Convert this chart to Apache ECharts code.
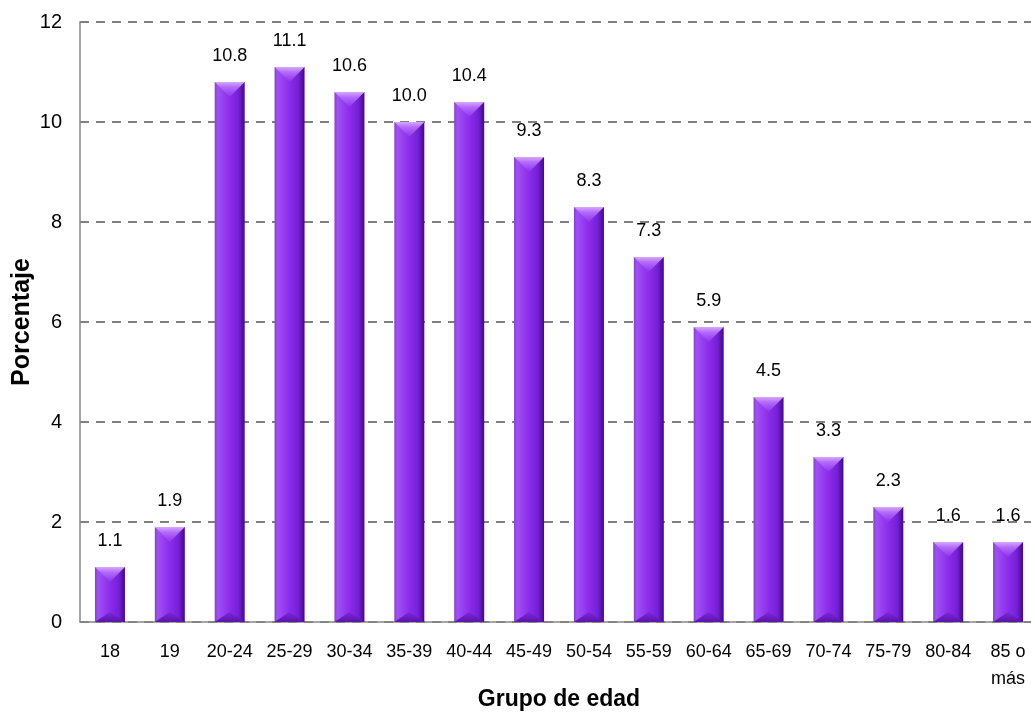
<!DOCTYPE html>
<html><head><meta charset="utf-8">
<script src="https://cdn.jsdelivr.net/npm/echarts@6/dist/echarts.min.js"></script>
<style>html,body{margin:0;padding:0;background:#fff}#c{width:1031px;height:719px}</style>
</head><body><div id="c"></div>
<script>
const categories = ['18','19','20-24','25-29','30-34','35-39','40-44','45-49','50-54','55-59','60-64','65-69','70-74','75-79','80-84','85 o\nmás'];
const values = [1.1,1.9,10.8,11.1,10.6,10.0,10.4,9.3,8.3,7.3,5.9,4.5,3.3,2.3,1.6,1.6];
const yTicks = [0,2,4,6,8,10,12];
const FONT = '"Liberation Sans", Arial, sans-serif';
const chart = echarts.init(document.getElementById('c'));
const G = echarts.graphic.LinearGradient;
chart.setOption({
  animation:false,
  grid:{left:80,top:22,right:-7,bottom:97,containLabel:false,outerBoundsMode:'none'},
  xAxis:{type:'category',data:categories,
    name:'Grupo de edad',nameLocation:'middle',nameGap:66,nameMoveOverlap:false,
    nameTextStyle:{fontFamily:FONT,fontSize:23,fontWeight:'bold',color:'#000'},
    axisLine:{lineStyle:{color:'#868686',width:1.5}},axisTick:{show:false},
    axisLabel:{fontFamily:FONT,fontSize:18,color:'#000',margin:17,interval:0,lineHeight:27,verticalAlign:'top'}},
  yAxis:{type:'value',min:0,max:12,interval:2,
    name:'Porcentaje',nameLocation:'middle',nameGap:45,nameRotate:90,nameMoveOverlap:false,
    nameTextStyle:{fontFamily:FONT,fontSize:25,fontWeight:'bold',color:'#000'},
    axisLine:{show:true,lineStyle:{color:'#868686',width:1.5}},axisTick:{show:false},
    axisLabel:{fontFamily:FONT,fontSize:20,color:'#000',margin:18,
      formatter:v=>yTicks.includes(v)?String(v):''},
    splitLine:{lineStyle:{color:'#7f7f7f',width:2,type:[9,7]}}},
  series:[
    {type:'bar',data:values,barWidth:30,z:2,
      itemStyle:{color:new G(0,0,1,0,[
        {offset:0,color:'#8a3ae0'},{offset:0.1,color:'#a050f5'},{offset:0.5,color:'#8b2cea'},
        {offset:0.8,color:'#7420d6'},{offset:1,color:'#3d0d7a'}])},
      label:{show:true,position:'top',distance:17,fontFamily:FONT,fontSize:18,color:'#000',
        formatter:p=>p.value.toFixed(1)}},
    {type:'pictorialBar',data:values,symbol:'path://M0,0 L30,0 L15,14 Z',symbolSize:[30,15],
      symbolPosition:'end',z:3,silent:true,
      itemStyle:{color:new G(0,0,0,1,[{offset:0,color:'#d7a8ff'},{offset:0.35,color:'#b26bf9'},{offset:1,color:'#8f33ec'}])}},
    {type:'pictorialBar',data:values,symbol:'path://M0,12 L30,12 L15,0 Z',symbolSize:[30,10],
      symbolPosition:'start',z:3,silent:true,
      itemStyle:{color:new G(0,0,0,1,[{offset:0,color:'#7d26dc'},{offset:1,color:'#5a15a8'}])}}
  ]
});
</script></body></html>
